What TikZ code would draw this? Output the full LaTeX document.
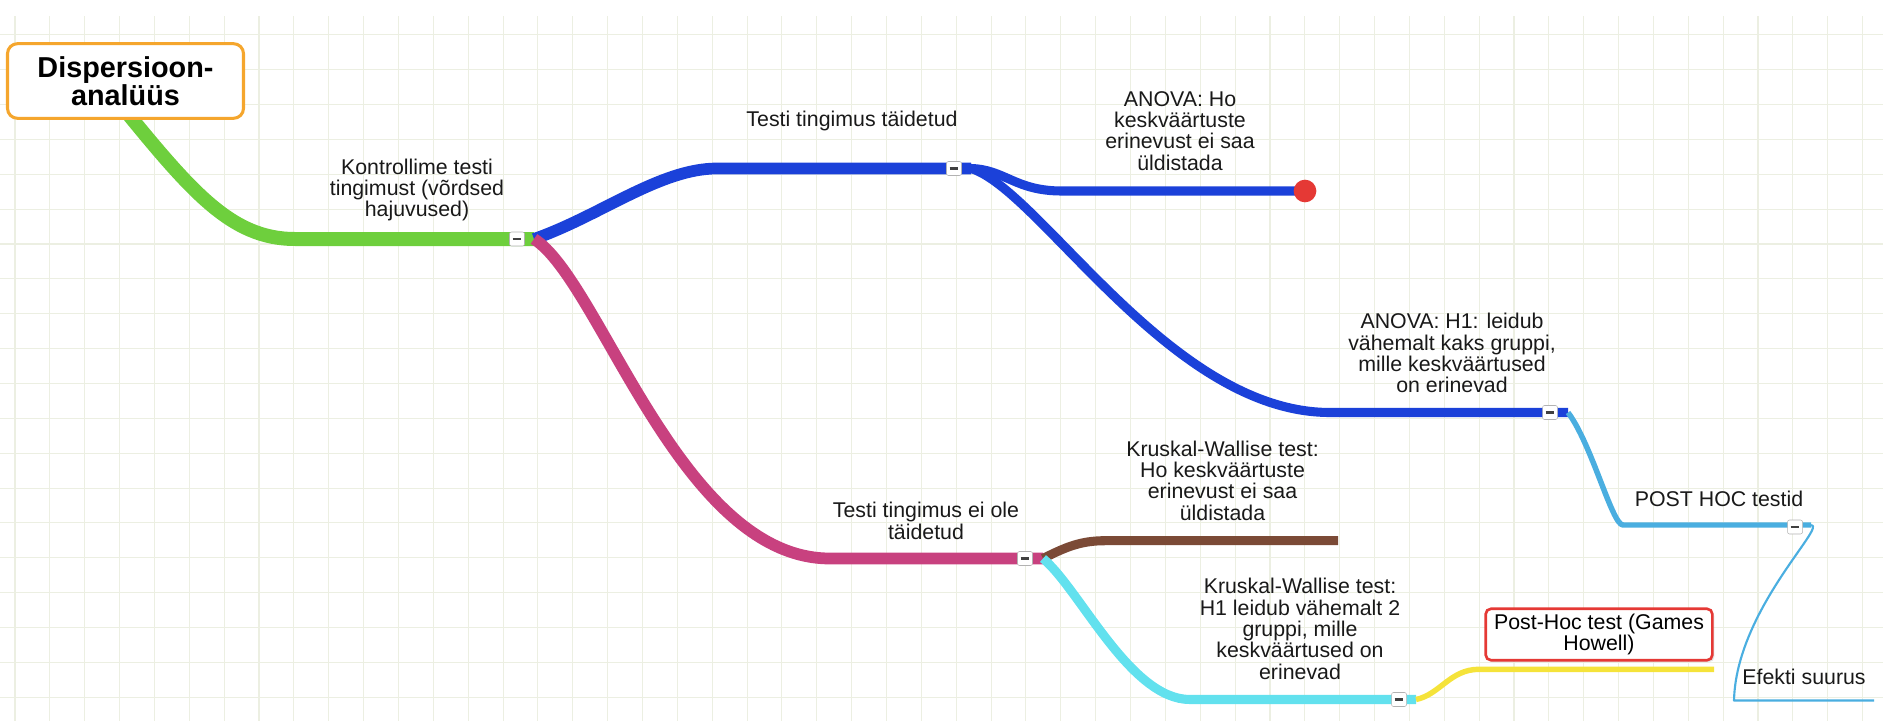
\documentclass[tikz,border=0pt]{standalone}
\usepackage{fontspec}
\setmainfont{Liberation Sans}
\usetikzlibrary{shapes,shadows,calc}

\begin{document}
\begin{tikzpicture}[
    x=0.75pt, y=-0.75pt,
    font=\fontsize{16pt}{16pt}\selectfont,
]

\definecolor{gridColor}{RGB}{236, 239, 226}
\definecolor{rootOrange}{RGB}{245, 166, 45}
\definecolor{checkGreen}{RGB}{110, 207, 61}
\definecolor{metBlue}{RGB}{27, 65, 217}
\definecolor{notmetPink}{RGB}{200, 65, 127}
\definecolor{kwBrown}{RGB}{123, 74, 54}
\definecolor{kwCyan}{RGB}{98, 225, 238}
\definecolor{ghYellow}{RGB}{245, 227, 58}
\definecolor{posthocBlue}{RGB}{74, 174, 224}
\definecolor{dotRed}{RGB}{229, 57, 53}

\tikzset{
    grid_line/.style = {draw=gridColor, line width=0.8pt},
    branch_line/.style = {line cap=butt, line join=round},
    lvl_one/.style = {branch_line, line width=10.5pt},
    lvl_two/.style = {branch_line, line width=8.8pt},
    lvl_three/.style = {branch_line, line width=6.8pt},
    lvl_four/.style = {branch_line, line width=4.1pt},
    lvl_five/.style = {branch_line, line width=1.6pt},
    collapse_btn/.style = {rectangle, rounded corners=1.5pt, draw=black!30, fill=white,
                           minimum width=11.25pt, minimum height=10.5pt, inner sep=0pt},
    branch_label/.style = {anchor=base, align=center, inner sep=0pt, text=black!90},
    root_box/.style = {rectangle, rounded corners=7.5pt, draw=rootOrange, line width=2.3pt,
                       fill=white, minimum width=177pt, minimum height=56pt, inner sep=0pt,
                       align=center, font=\fontsize{21.6pt}{20.8pt}\selectfont\bfseries},
    leaf_box/.style = {rectangle, rounded corners=4pt, draw=dotRed, line width=2pt, fill=white,
                       minimum width=170pt, minimum height=38.6pt, inner sep=0pt, align=center,
                       drop shadow={opacity=0.2, shadow xshift=1.5pt, shadow yshift=-1.5pt}}
}

\useasboundingbox (0,0) rectangle (1883,721);

% =========== GRID ===========
\foreach \k in {0,...,53}
    \draw[grid_line] (15+34.86*\k,16) -- (15+34.86*\k,721);
\foreach \k in {1,...,20}
    \draw[grid_line] (0,34.86*\k) -- (1883,34.86*\k);

% =========== BRANCH POINTS ===========
\coordinate (root_out) at (115,98);
\coordinate (check_h) at (295,239);
\coordinate (check_end) at (534,239);
\coordinate (met_h) at (717,168.5);
\coordinate (met_end) at (971,168.5);
\coordinate (anova0_h) at (1062,191);
\coordinate (anova0_end) at (1305,191);
\coordinate (anova1_h) at (1330,412.5);
\coordinate (anova1_end) at (1568,412.5);
\coordinate (posthoc_h) at (1623,525);
\coordinate (posthoc_end) at (1811,525);
\coordinate (effect_h) at (1734,700.5);
\coordinate (effect_end) at (1874,700.5);
\coordinate (notmet_h) at (830,558.5);
\coordinate (notmet_end) at (1043,558.5);
\coordinate (kw0_h) at (1105,540.7);
\coordinate (kw0_end) at (1338,540.7);
\coordinate (kw1_h) at (1190,699.5);
\coordinate (kw1_end) at (1416,699.5);
\coordinate (gh_h) at (1479,669.3);
\coordinate (gh_end) at (1714,669.3);

% =========== BRANCHES ===========
\draw[lvl_one, checkGreen] (root_out) .. controls +(75,92) and +(-65,0) .. (check_h) -- (check_end);

% condition met
\draw[lvl_two, metBlue] (check_end) .. controls +(66,-23) and +(-57,0) .. (met_h) -- (met_end);
\draw[lvl_three, metBlue] (met_end) .. controls +(34,1) and +(-47,0) .. (anova0_h) -- (anova0_end);
\draw[lvl_three, metBlue] (met_end) .. controls +(69,21) and +(-160,0) .. (anova1_h) -- (anova1_end);
\draw[lvl_four, posthocBlue] (anova1_end) .. controls +(24,32) and +(-11,0) .. (posthoc_h) -- (posthoc_end);
\draw[lvl_five, posthocBlue] (posthoc_end) .. controls +(17,0) and +(2,-90) .. (effect_h) -- (effect_end);

% condition not met
\draw[lvl_two, notmetPink] (check_end) .. controls +(66,41) and +(-150,0) .. (notmet_h) -- (notmet_end);
\draw[lvl_three, kwBrown] (notmet_end) .. controls +(22,-11) and +(-25,0) .. (kw0_h) -- (kw0_end);
\draw[lvl_three, kwCyan] (notmet_end) .. controls +(37,31) and +(-60,0) .. (kw1_h) -- (kw1_end);
\draw[lvl_four, ghYellow] (kw1_end) .. controls +(24,-5) and +(-29,0) .. (gh_h) -- (gh_end);

% end marker
\node[circle, fill=dotRed, minimum size=17pt, inner sep=0pt] (anova0_dot) at (anova0_end) {};

% =========== COLLAPSE BUTTONS ===========
\node[collapse_btn] (btn_check) at (517,239) {\color{black!75}\rule{6.5pt}{1.9pt}};
\node[collapse_btn] (btn_met) at (954,168.5) {\color{black!75}\rule{6.5pt}{1.9pt}};
\node[collapse_btn] (btn_notmet) at (1025,558.5) {\color{black!75}\rule{6.5pt}{1.9pt}};
\node[collapse_btn] (btn_anova1) at (1550,412.5) {\color{black!75}\rule{6.5pt}{1.9pt}};
\node[collapse_btn] (btn_posthoc) at (1795,527) {\color{black!75}\rule{6.5pt}{1.9pt}};
\node[collapse_btn] (btn_kw1) at (1399,699.5) {\color{black!75}\rule{6.5pt}{1.9pt}};

% =========== LABELS ===========
% (placed at the baseline of the last line)
\node[branch_label] (lbl_check) at (417,216.7) {Kontrollime testi\\tingimust (võrdsed\\hajuvused)};
\node[branch_label] (lbl_met) at (852,126.7) {Testi tingimus täidetud};
\node[branch_label] (lbl_anova0) at (1180,170) {ANOVA: Ho\\keskväärtuste\\erinevust ei saa\\üldistada};
\node[branch_label] (lbl_anova1) at (1452,392.7) {ANOVA: H1: leidub\\vähemalt kaks gruppi,\\mille keskväärtused\\on erinevad};
\node[branch_label] (lbl_posthoc) at (1719,506.7) {POST HOC testid};
\node[branch_label] (lbl_effect) at (1804,684.3) {Efekti suurus};
\node[branch_label] (lbl_notmet) at (926,539) {Testi tingimus ei ole\\täidetud};
\node[branch_label] (lbl_kw0) at (1222.5,520) {Kruskal-Wallise test:\\Ho keskväärtuste\\erinevust ei saa\\üldistada};
\node[branch_label] (lbl_kw1) at (1300,679.3) {Kruskal-Wallise test:\\H1 leidub vähemalt 2\\gruppi, mille\\keskväärtused on\\erinevad};

% =========== BOXES ===========
\node[root_box] (root) at (125.5,81) {Dispersioon-\\analüüs};
\node[leaf_box] (gh_box) at (1599,634.5) {Post-Hoc test (Games\\Howell)};

\end{tikzpicture}
\end{document}
